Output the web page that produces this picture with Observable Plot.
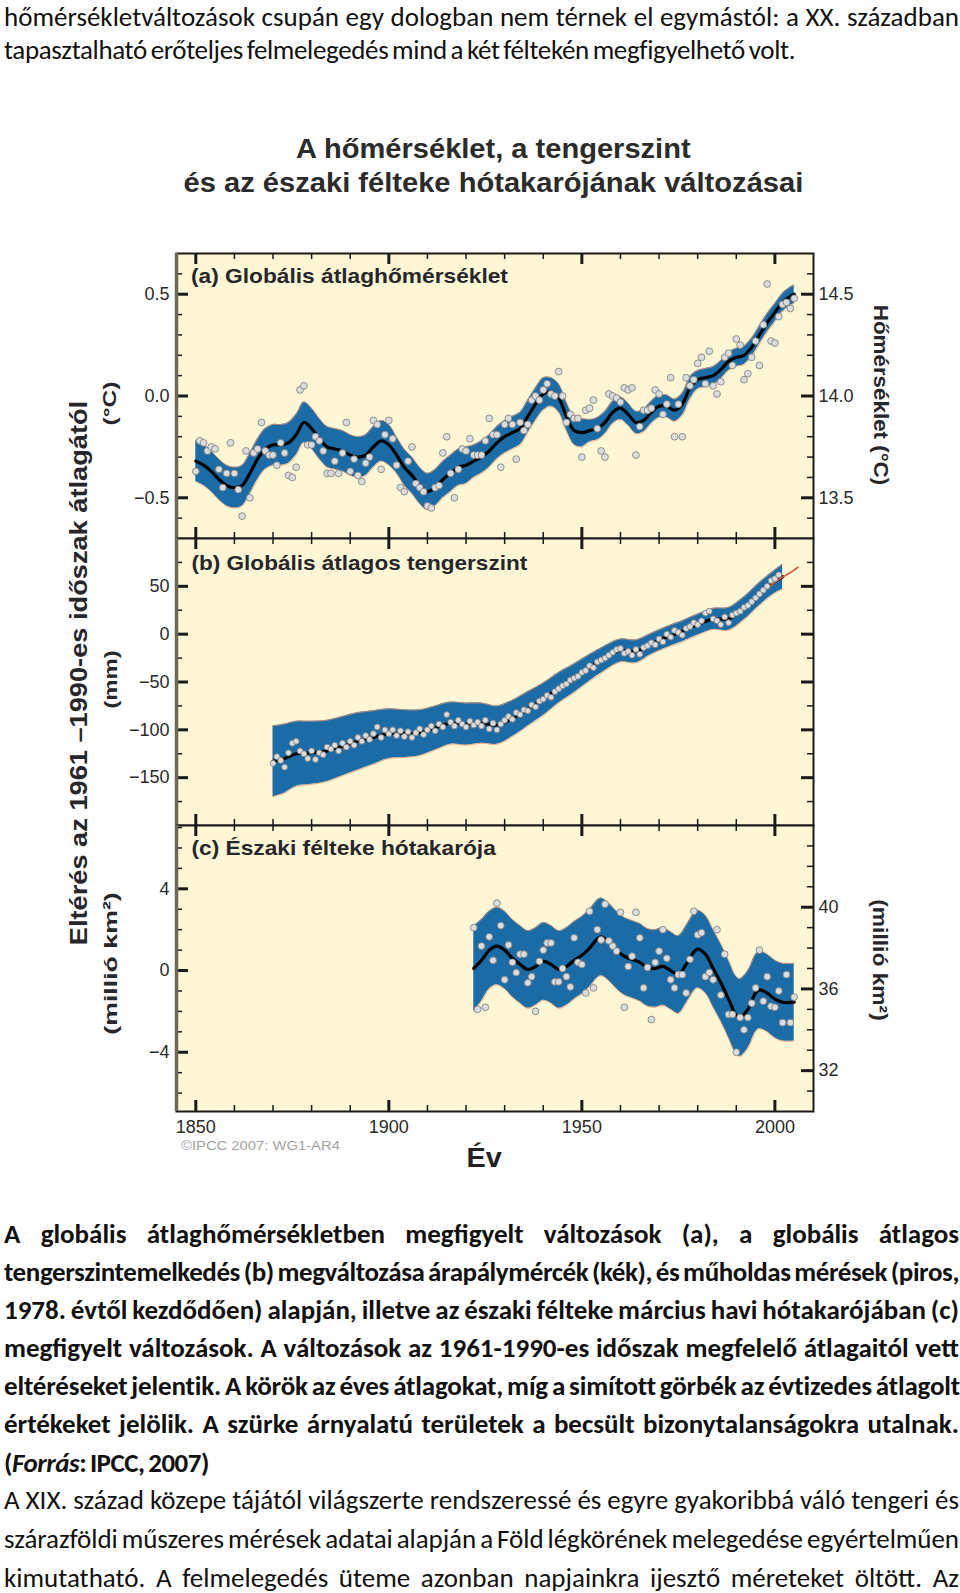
<!DOCTYPE html>
<html><head><meta charset="utf-8">
<script src="https://cdn.jsdelivr.net/npm/d3@7"></script>
<script src="https://cdn.jsdelivr.net/npm/@observablehq/plot@0.6"></script>
<style>
html,body{margin:0;padding:0;background:#fff;}
#page{position:relative;width:960px;height:1593px;overflow:hidden;}
.abs{position:absolute;white-space:nowrap;}
.body{font-family:Carlito,Lato,sans-serif;font-size:27px;color:#111;line-height:38px;height:38px;}
svg.plot-panel{position:absolute;left:0;}
.lab{z-index:5;}
</style></head>
<body><div id="page"></div>
<script>
// ---------------- DATA ----------------
const X_DOMAIN = [1845, 2010];
const xMajorTicks = [1850, 1900, 1950, 2000];
const xMinorTicks = [1860, 1870, 1880, 1890, 1910, 1920, 1930, 1940, 1960, 1970, 1980, 1990];

// (a) global mean temperature anomaly, annual values 1850-2005 (°C)
const tempStartYear = 1850;
const tempAnnual = [
 -0.37,-0.22,-0.23,-0.27,-0.25,-0.26,-0.36,-0.45,-0.38,-0.23,
 -0.38,-0.46,-0.59,-0.27,-0.50,-0.28,-0.26,-0.13,-0.27,-0.29,
 -0.29,-0.34,-0.23,-0.28,-0.39,-0.40,-0.35,0.03,0.05,-0.24,
 -0.24,-0.20,-0.22,-0.27,-0.38,-0.38,-0.32,-0.38,-0.28,-0.13,
 -0.37,-0.31,-0.39,-0.42,-0.33,-0.30,-0.12,-0.14,-0.36,-0.19,
 -0.12,-0.21,-0.34,-0.45,-0.47,-0.32,-0.25,-0.43,-0.45,-0.47,
 -0.54,-0.55,-0.45,-0.44,-0.28,-0.20,-0.38,-0.50,-0.36,-0.26,
 -0.27,-0.21,-0.29,-0.29,-0.29,-0.22,-0.11,-0.19,-0.19,-0.35,
 -0.14,-0.11,-0.14,-0.31,-0.13,-0.17,-0.14,-0.02,0.00,-0.02,
 0.03,0.06,0.01,0.00,0.12,0.00,-0.13,-0.09,-0.11,-0.11,
 -0.30,-0.07,-0.06,-0.02,-0.16,-0.27,-0.30,0.01,0.00,-0.01,
 -0.03,0.04,0.03,0.04,-0.29,-0.15,-0.07,-0.07,-0.06,0.03,
 0.01,-0.09,-0.04,0.09,-0.20,-0.04,-0.20,0.09,0.05,0.08,
 0.16,0.19,0.06,0.22,0.05,0.01,0.07,0.19,0.21,0.15,
 0.28,0.25,0.08,0.11,0.19,0.27,0.15,0.35,0.55,0.27,
 0.26,0.39,0.45,0.46,0.43,0.48
];
const tempSmoothYears = [1850,1852,1854,1856,1858,1860,1862,1864,1866,1868,1870,1872,1874,1876,1878,1880,1882,1884,1886,1888,1890,1892,1894,1896,1898,1900,1902,1904,1906,1908,1910,1912,1914,1916,1918,1920,1922,1924,1926,1928,1930,1932,1934,1936,1938,1940,1942,1944,1946,1948,1950,1952,1954,1956,1958,1960,1962,1964,1966,1968,1970,1972,1974,1976,1978,1980,1982,1984,1986,1988,1990,1992,1994,1996,1998,2000,2002,2004,2005];
const tempSmooth = [-0.32,-0.34,-0.37,-0.41,-0.44,-0.45,-0.44,-0.38,-0.31,-0.26,-0.24,-0.24,-0.23,-0.19,-0.13,-0.16,-0.21,-0.25,-0.26,-0.27,-0.29,-0.30,-0.29,-0.25,-0.22,-0.24,-0.29,-0.35,-0.39,-0.44,-0.47,-0.45,-0.41,-0.38,-0.35,-0.34,-0.32,-0.30,-0.27,-0.23,-0.20,-0.18,-0.16,-0.10,-0.04,0.01,0.02,-0.01,-0.10,-0.17,-0.18,-0.17,-0.16,-0.13,-0.08,-0.06,-0.09,-0.13,-0.12,-0.08,-0.05,-0.05,-0.07,-0.04,0.04,0.08,0.09,0.10,0.13,0.17,0.19,0.20,0.24,0.30,0.36,0.41,0.46,0.49,0.50];
const tempHalfWidth = [0.10,0.10,0.10,0.10,0.10,0.10,0.10,0.10,0.10,0.10,0.10,0.10,0.10,0.10,0.10,0.10,0.10,0.10,0.10,0.10,0.10,0.10,0.10,0.10,0.10,0.10,
 0.09,0.09,0.09,0.09,0.09,0.09,0.09,0.09,0.09,0.09,
 0.08,0.08,0.08,0.08,0.08,0.08,0.08,0.08,0.08,0.08,
 0.07,0.07,0.07,0.07,0.07,
 0.055,0.055,0.055,0.055,0.055,0.055,0.055,0.055,0.055,0.055,0.055,0.055,0.055,0.055,
 0.045,0.045,0.045,0.045,0.045,0.045,0.045,0.045,0.045,0.045,0.045,0.045,0.045,0.045];
const tempLeftMajor = [-0.5, 0, 0.5];
const tempLeftMinor = [-0.6,-0.4,-0.3,-0.2,-0.1,0.1,0.2,0.3,0.4,0.6];
const tempRightMajor = [13.5, 14.0, 14.5];
const tempRightMinor = [13.4,13.6,13.7,13.8,13.9,14.1,14.2,14.3,14.4,14.6];
const tempRightOffset = 14.0;

// (b) global mean sea level (mm), annual tide-gauge values 1870-2001
const seaStartYear = 1870;
const seaAnnual = [
 -135,-128,-132,-139,-124,-114,-112,-122,-125,-130,
 -122,-131,-124,-126,-118,-120,-116,-122,-114,-118,
 -112,-116,-108,-112,-106,-110,-104,-97,-108,-100,
 -104,-100,-106,-101,-107,-102,-108,-103,-99,-105,
 -100,-96,-101,-94,-97,-84,-92,-96,-90,-94,
 -97,-91,-95,-92,-96,-90,-99,-93,-100,-94,
 -90,-86,-89,-82,-84,-79,-80,-74,-76,-70,
 -68,-64,-66,-60,-57,-54,-52,-48,-46,-44,
 -40,-38,-33,-35,-29,-27,-25,-22,-19,-16,
 -15,-20,-18,-22,-16,-21,-14,-12,-9,-11,
 -5,-8,0,-3,4,2,-1,6,8,12,
 10,14,22,24,16,14,10,18,12,20,
 22,24,28,30,34,38,42,46,50,56,
 58,62
];
const seaSmoothYears = [1870,1873,1876,1880,1884,1888,1892,1896,1900,1904,1908,1912,1916,1920,1924,1928,1932,1936,1940,1944,1948,1952,1956,1960,1964,1968,1972,1976,1980,1984,1988,1992,1996,2000,2002];
const seaSmooth = [-133,-130,-125,-124,-122,-117,-112,-108,-104,-104,-103,-98,-93,-94,-93,-95,-88,-78,-68,-56,-46,-35,-25,-17,-18,-10,-3,3,10,16,16,27,42,55,60];
const seaHalfWidth = [37,36,34,33,32,31,30,28,26,25,24,23,22,22,21,20,19,18,17,16,15,14,13,12,12,11,11,11,11,11,12,12,12,12,13];
const satYears = [1993,1995,1997,1999,2001,2003,2005,2006];
const satLevel = [32,38,45,51,57,62,67,70];
const seaMajor = [-150,-100,-50,0,50];
const seaMinor = [-175,-125,-75,-25,25,75];

// (c) NH March-April snow cover anomaly (million km²), annual 1922-2005
const snowStartYear = 1922;
const snowAnnual = [
 2.1,-1.9,1.2,-1.8,1.65,0.5,3.3,2.2,-0.45,1.25,
 0.4,-0.1,0.8,0.8,-0.6,-0.3,-2.0,0.45,1.0,1.35,
 1.35,-0.55,-0.55,0.1,-0.3,-0.8,1.6,0.4,0.3,-1.1,
 2.9,-0.85,2.0,1.5,3.25,1.45,1.2,0.95,2.85,-1.8,
 0.2,0.7,2.85,1.6,-0.85,0.15,-2.4,0.4,0.95,2.0,
 0.6,-0.45,-0.85,-0.2,-0.2,-1.1,0.55,2.9,1.75,1.85,
 -0.3,-0.1,-0.45,2.0,-1.2,0.8,-2.15,-2.15,-4.0,-2.3,
 -2.9,-2.3,-1.6,-0.85,1.0,-1.5,-0.3,-1.75,-1.8,-1.0,
 -2.55,-0.2,-2.55,-1.3
];
const snowSmoothYears = [1922,1924,1926,1928,1930,1932,1934,1936,1938,1940,1942,1944,1946,1948,1950,1952,1954,1955,1957,1959,1961,1963,1965,1967,1969,1971,1973,1975,1977,1979,1980,1982,1984,1986,1988,1990,1991,1993,1995,1996,1998,2000,2002,2005];
const snowSmooth = [0.1,0.5,1.0,1.2,1.0,0.6,0.3,0.05,0.2,0.45,0.3,0.05,0.2,0.5,0.75,1.1,1.55,1.65,1.4,1.0,0.7,0.55,0.4,0.15,0.1,0.2,0.0,-0.2,0.3,0.9,1.05,0.8,0.1,-0.6,-1.4,-2.2,-2.3,-1.9,-1.1,-0.95,-1.1,-1.4,-1.55,-1.55];
const snowHalfWidth = [2.1,2.0,1.9,1.9,1.9,1.9,1.9,1.9,1.9,1.9,1.9,1.9,1.9,1.9,1.9,1.9,1.9,1.9,1.9,1.9,1.9,1.9,1.9,1.9,1.9,1.9,1.9,1.9,1.9,1.9,1.9,1.9,1.9,1.9,1.9,1.9,1.9,1.9,1.9,1.9,1.9,1.9,1.9,1.9];
const snowLeftMajor = [-4, 0, 4];
const snowLeftMinor = [-6,-5,-3,-2,-1,1,2,3,5,6,7];
const snowRightMajor = [32, 36, 40];
const snowRightMinor = [31,33,34,35,37,38,39,41,42,43];
const snowRightOffset = 36.9;

// ---------------- TEXT ----------------
const topLines = [
  "hőmérsékletváltozások csupán egy dologban nem térnek el egymástól: a XX. században",
  "tapasztalható erőteljes felmelegedés mind a két féltekén megfigyelhető volt."
];
const captionLines = [
  "A globális átlaghőmérsékletben megfigyelt változások (a), a globális átlagos",
  "tengerszintemelkedés (b) megváltozása árapálymércék (kék), és műholdas mérések (piros,",
  "1978. évtől kezdődően) alapján, illetve az északi félteke március havi hótakarójában (c)",
  "megfigyelt változások. A változások az 1961-1990-es időszak megfelelő átlagaitól vett",
  "eltéréseket jelentik. A körök az éves átlagokat, míg a simított görbék az évtizedes átlagolt",
  "értékeket jelölik. A szürke árnyalatú területek a becsült bizonytalanságokra utalnak.",
  "(<i>Forrás</i>: IPCC, 2007)"
];
const afterLines = [
  "A XIX. század közepe tájától világszerte rendszeressé és egyre gyakoribbá váló tengeri és",
  "szárazföldi műszeres mérések adatai alapján a Föld légkörének melegedése egyértelműen",
  "kimutatható. A felmelegedés üteme azonban napjainkra ijesztő méreteket öltött. Az"
];
const figTitle = ["A hőmérséklet, a tengerszint", "és az északi félteke hótakarójának változásai"];
const panelTitles = ["(a) Globális átlaghőmérséklet", "(b) Globális átlagos tengerszint", "(c) Északi félteke hótakarója"];

// ---------------- DRAW ----------------
const page = document.getElementById("page");
const FIG = '"Liberation Sans", Arial, sans-serif';
const CREAM = "#fff6d6", BLUE = "#1b6ca6", EDGE = "#e3926f", INK = "#1a1a1a";

function label(html, o) {
  const d = document.createElement("div");
  d.className = "abs lab";
  d.style.font = `${o.weight ?? 700} ${o.size}px ${o.family ?? FIG}`;
  d.style.color = o.color ?? "#26262b";
  d.style.lineHeight = "1";
  d.innerHTML = html;
  page.appendChild(d);
  const w = d.offsetWidth, h = d.offsetHeight;
  const s = o.len ? o.len / w : 1;
  d.style.left = (o.cx - w / 2) + "px";
  d.style.top = (o.cy - h / 2) + "px";
  d.style.transformOrigin = "50% 50%";
  d.style.transform = `rotate(${o.rotate ?? 0}deg) scaleX(${s})`;
}

function bodyLine(html, cy, o) {
  const d = document.createElement("div");
  d.className = "abs body";
  d.style.fontWeight = o.bold ? 700 : 400;
  d.innerHTML = html;
  const lh = o.lh ?? 38;
  d.style.lineHeight = lh + "px";
  d.style.height = lh + "px";
  d.style.left = o.x0 + "px";
  d.style.top = (cy - lh / 2) + "px";
  page.appendChild(d);
  const w = d.getBoundingClientRect().width;
  const target = o.x1 - o.x0;
  const txt = d.textContent;
  const nSp = (txt.match(/ /g) || []).length || 1;
  const diff = target - w;
  if (diff / nSp > -2) {
    d.style.wordSpacing = (diff / nSp) + "px";
  } else {
    d.style.wordSpacing = "-2px";
    d.style.letterSpacing = ((diff + 2 * nSp) / txt.length) + "px";
  }
}

// tables
const tempPts = tempAnnual.map((v, i) => ({year: tempStartYear + i, v}));
const tempBand = tempSmoothYears.map((y, i) => ({year: y, v: tempSmooth[i], lo: tempSmooth[i] - tempHalfWidth[i], hi: tempSmooth[i] + tempHalfWidth[i]}));
const seaPts = seaAnnual.map((v, i) => ({year: seaStartYear + i, v}));
const seaBand = seaSmoothYears.map((y, i) => ({year: y, v: seaSmooth[i], lo: seaSmooth[i] - seaHalfWidth[i], hi: seaSmooth[i] + seaHalfWidth[i]}));
const satPts = satYears.map((y, i) => ({year: y, v: satLevel[i]}));
const snowPts = snowAnnual.map((v, i) => ({year: snowStartYear + i, v}));
const snowBand = snowSmoothYears.map((y, i) => ({year: y, v: snowSmooth[i], lo: snowSmooth[i] - snowHalfWidth[i], hi: snowSmooth[i] + snowHalfWidth[i]}));

const ML = 176, MR = 147, FW = 960 - ML - MR;

function panel(o) {
  const H = o.height - o.mt - o.mb;
  const tk = (vals, side, len, sw) => {
    const base = {stroke: INK, strokeWidth: sw};
    if (side === "left") return Plot.tickY(vals, {y: d => d, insetRight: FW - len, ...base});
    if (side === "right") return Plot.tickY(vals, {y: d => d, insetLeft: FW - len, ...base});
    if (side === "top") return Plot.tickX(vals, {x: d => d, insetBottom: H - len, ...base});
    return Plot.tickX(vals, {x: d => d, insetTop: H - len, ...base});
  };
  const curve = "catmull-rom";
  const marks = [
    Plot.frame({fill: CREAM, stroke: null}),
    Plot.areaY(o.band, {x: "year", y1: "lo", y2: "hi", fill: BLUE, curve}),
    Plot.line(o.band, {x: "year", y: "lo", stroke: EDGE, strokeWidth: 1, strokeOpacity: 0.8, curve}),
    Plot.line(o.band, {x: "year", y: "hi", stroke: EDGE, strokeWidth: 1, strokeOpacity: 0.8, curve}),
    Plot.line(o.band, {x: "year", y: "v", stroke: "#000", strokeWidth: 3.2, curve}),
    ...(o.extra || []),
    Plot.dot(o.pts, {x: "year", y: "v", r: o.r, fill: "#dcdcdc", stroke: "#858585", strokeWidth: 0.9}),
    tk(o.lMajor, "left", 12, 3), tk(o.lMinor, "left", 6, 1.5),
    tk(o.rMajor.map(r => r - o.rOff), "right", 12, 3), tk(o.rMinor.map(r => r - o.rOff), "right", 6, 1.5),
    tk(xMajorTicks, "top", 11, 3), tk(xMinorTicks, "top", 6, 1.5),
    tk(xMajorTicks, "bottom", 11, 3), tk(xMinorTicks, "bottom", 6, 1.5),
    Plot.frame({stroke: INK, strokeWidth: 2}),
    Plot.ruleX([X_DOMAIN[0]], {stroke: "#6f6757", strokeWidth: 3.5}),
    Plot.axisY(o.lMajor, {anchor: "left", tickSize: 0, tickPadding: 7, tickFormat: o.lFmt, label: null, fontSize: 18})
  ];
  if (o.rLabels) marks.push(Plot.axisY(o.rMajor.map(r => r - o.rOff), {anchor: "right", tickSize: 0, tickPadding: 5, tickFormat: d => o.rFmt(d + o.rOff), label: null, fontSize: 18}));
  if (o.xLabels) marks.push(Plot.axisX(xMajorTicks, {anchor: "bottom", tickSize: 0, tickPadding: 9, tickFormat: d => String(d), label: null, fontSize: 18}));
  const svg = Plot.plot({
    width: 960, height: o.height,
    marginLeft: ML, marginRight: MR, marginTop: o.mt, marginBottom: o.mb,
    x: {domain: X_DOMAIN, ...(o.xLabels ? {} : {axis: null})},
    y: {domain: o.yDomain},
    style: {fontFamily: FIG, fontSize: "18px", color: "#2a2a2a", background: "transparent", overflow: "visible"},
    marks
  });
  svg.classList.add("plot-panel");
  svg.style.position = "absolute";
  svg.style.left = "0px";
  svg.style.top = o.top + "px";
  page.appendChild(svg);
}

panel({top: 251, height: 289, mt: 2, mb: 2, yDomain: [-0.7, 0.7], band: tempBand, pts: tempPts, r: 3.4,
  lMajor: tempLeftMajor, lMinor: tempLeftMinor, lFmt: d3.format(".1f"),
  rMajor: tempRightMajor, rMinor: tempRightMinor, rOff: tempRightOffset, rFmt: d3.format(".1f"), rLabels: true});
panel({top: 536, height: 291, mt: 2, mb: 2, yDomain: [-200, 100], band: seaBand, pts: seaPts, r: 2.9,
  lMajor: seaMajor, lMinor: seaMinor, lFmt: d3.format("d"),
  rMajor: seaMajor, rMinor: seaMinor, rOff: 0, rFmt: d3.format("d"), rLabels: false,
  extra: [Plot.line(satPts, {x: "year", y: "v", stroke: "#e0573c", strokeWidth: 1.6, curve: "catmull-rom"})]});
panel({top: 823, height: 328, mt: 2, mb: 40, yDomain: [-6.9, 7.1], band: snowBand, pts: snowPts, r: 3.4,
  lMajor: snowLeftMajor, lMinor: snowLeftMinor, lFmt: d3.format("d"),
  rMajor: snowRightMajor, rMinor: snowRightMinor, rOff: snowRightOffset, rFmt: d => String(Math.round(d)), rLabels: true,
  xLabels: true});

// body text
bodyLine(topLines[0], 17, {x0: 4, x1: 959, lh: 26});
bodyLine(topLines[1], 50, {x0: 4, x1: 795});
const capY = [1234, 1272, 1310, 1348, 1386, 1424, 1463];
captionLines.forEach((t, i) => bodyLine(t, capY[i], {bold: true, x0: 4, x1: i === 6 ? 209 : 959}));
const afterY = [1500, 1539, 1578];
afterLines.forEach((t, i) => bodyLine(t, afterY[i], {x0: 4, x1: 959}));

// figure texts (drawn above the panels)
label(figTitle[0], {cx: 493, cy: 149, len: 395, size: 27, color: "#2b2b2b"});
label(figTitle[1], {cx: 493, cy: 183, len: 620, size: 27, color: "#2b2b2b"});
label(panelTitles[0], {cx: 349.5, cy: 275, len: 317, size: 21});
label(panelTitles[1], {cx: 359, cy: 562, len: 336, size: 21});
label(panelTitles[2], {cx: 343, cy: 847, len: 304, size: 21});
label("Eltérés az 1961 –1990-es időszak átlagától", {cx: 79, cy: 673, len: 544, size: 24, rotate: -90});
label("(°C)", {cx: 110, cy: 403, len: 44, size: 19, rotate: -90});
label("(mm)", {cx: 110, cy: 679, len: 58, size: 19, rotate: -90});
label("(millió km²)", {cx: 110, cy: 963, len: 142, size: 19, rotate: -90});
label("Hőmérséklet (°C)", {cx: 880, cy: 395, len: 180, size: 20, rotate: 90});
label("(millió km²)", {cx: 880, cy: 960, len: 122, size: 20, rotate: 90});
label("Év", {cx: 484, cy: 1158, len: 35, size: 28, color: "#222"});
label("©IPCC 2007: WG1-AR4", {cx: 260, cy: 1146, len: 159, size: 12, weight: 400, color: "#a3a3a3"});
</script>
</body></html>
